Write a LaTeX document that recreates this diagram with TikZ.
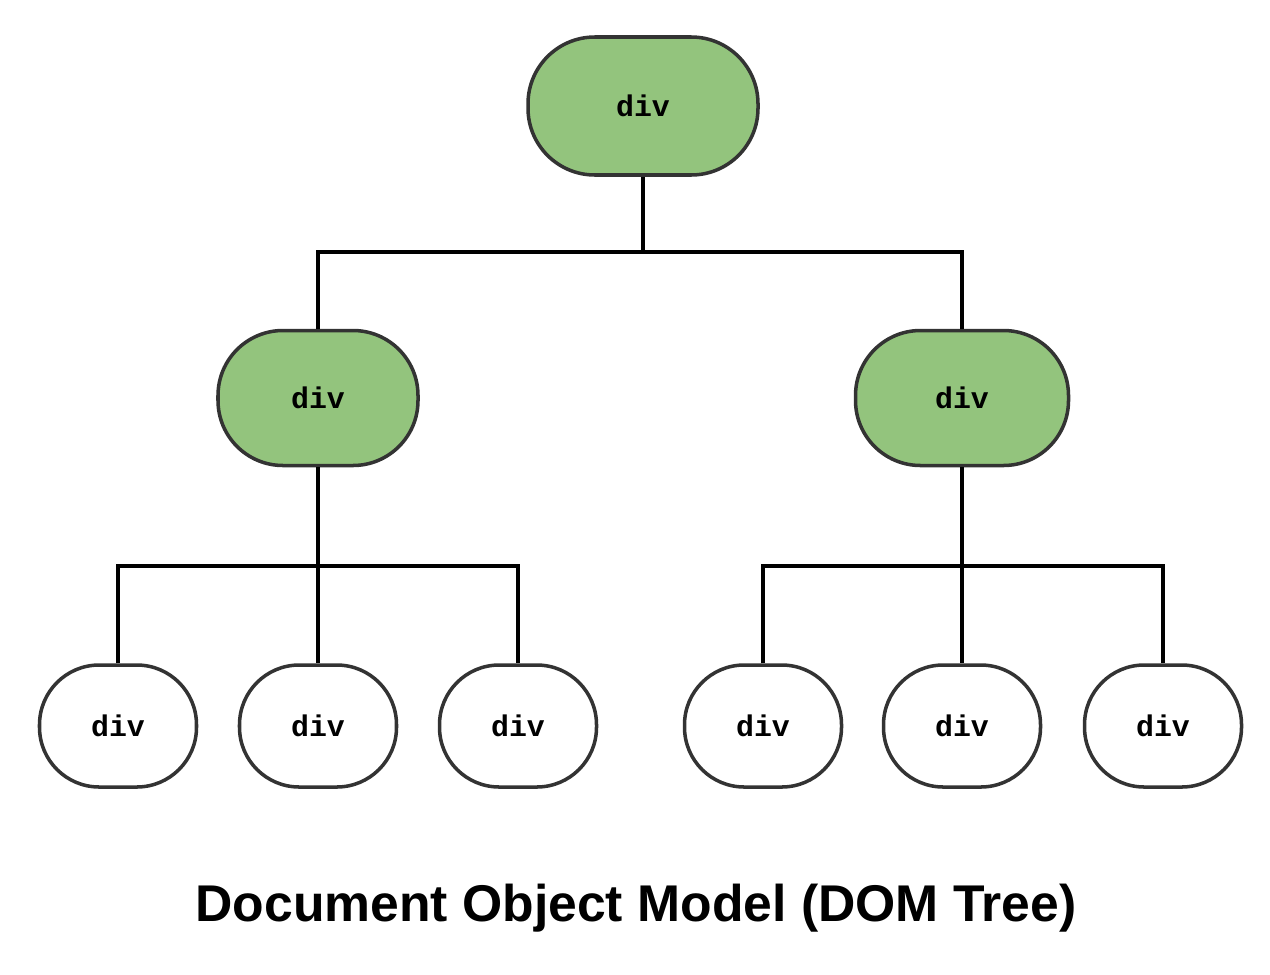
\documentclass[tikz,border=0pt]{standalone}
\usepackage{fontspec}
\setmainfont{Liberation Sans}
\newfontfamily\codefont{Liberation Mono}
\definecolor{leafgreen}{HTML}{93C47D}
\definecolor{edgegray}{HTML}{333333}
\begin{document}
\begin{tikzpicture}[x=0.02cm,y=-0.02cm,
  box/.style={draw=edgegray,line width=2pt,rounded corners=58pt,inner sep=0pt,
    font=\codefont\bfseries\fontsize{17}{20}\selectfont},
  parentbox/.style={box,fill=leafgreen},
  leafbox/.style={box,fill=white,minimum width=157*0.02cm,minimum height=122*0.02cm,rounded corners=34pt},
  link/.style={line width=2.4pt,black}]
\useasboundingbox (0,0) rectangle (1270,974);
\node[parentbox,minimum width=230*0.02cm,minimum height=138*0.02cm,rounded corners=38pt] (root) at (643,106) {div};
\node[parentbox,minimum width=200*0.02cm,minimum height=135*0.02cm,rounded corners=37pt] (ml) at (318,398) {div};
\node[parentbox,minimum width=213*0.02cm,minimum height=135*0.02cm,rounded corners=37pt] (mr) at (962,398) {div};
\node[leafbox] (l1) at (118,726) {div};
\node[leafbox] (l2) at (318,726) {div};
\node[leafbox] (l3) at (518,726) {div};
\node[leafbox] (r1) at (763,726) {div};
\node[leafbox] (r2) at (962,726) {div};
\node[leafbox] (r3) at (1163,726) {div};
\coordinate (j0) at (643,252);
\coordinate (j1) at (318,566);
\coordinate (j2) at (962,566);
\draw[link] (root.south) -- (j0);
\draw[link] (ml.north) |- (j0) -| (mr.north);
\draw[link] (ml.south) -- (j1);
\draw[link] (l1.north) |- (j1) -| (l3.north);
\draw[link] (j1) -- (l2.north);
\draw[link] (mr.south) -- (j2);
\draw[link] (r1.north) |- (j2) -| (r3.north);
\draw[link] (j2) -- (r2.north);
\node[font=\bfseries\fontsize{29.4}{34}\selectfont] (title) at (636,908) {Document Object Model (DOM Tree)};
\end{tikzpicture}
\end{document}
